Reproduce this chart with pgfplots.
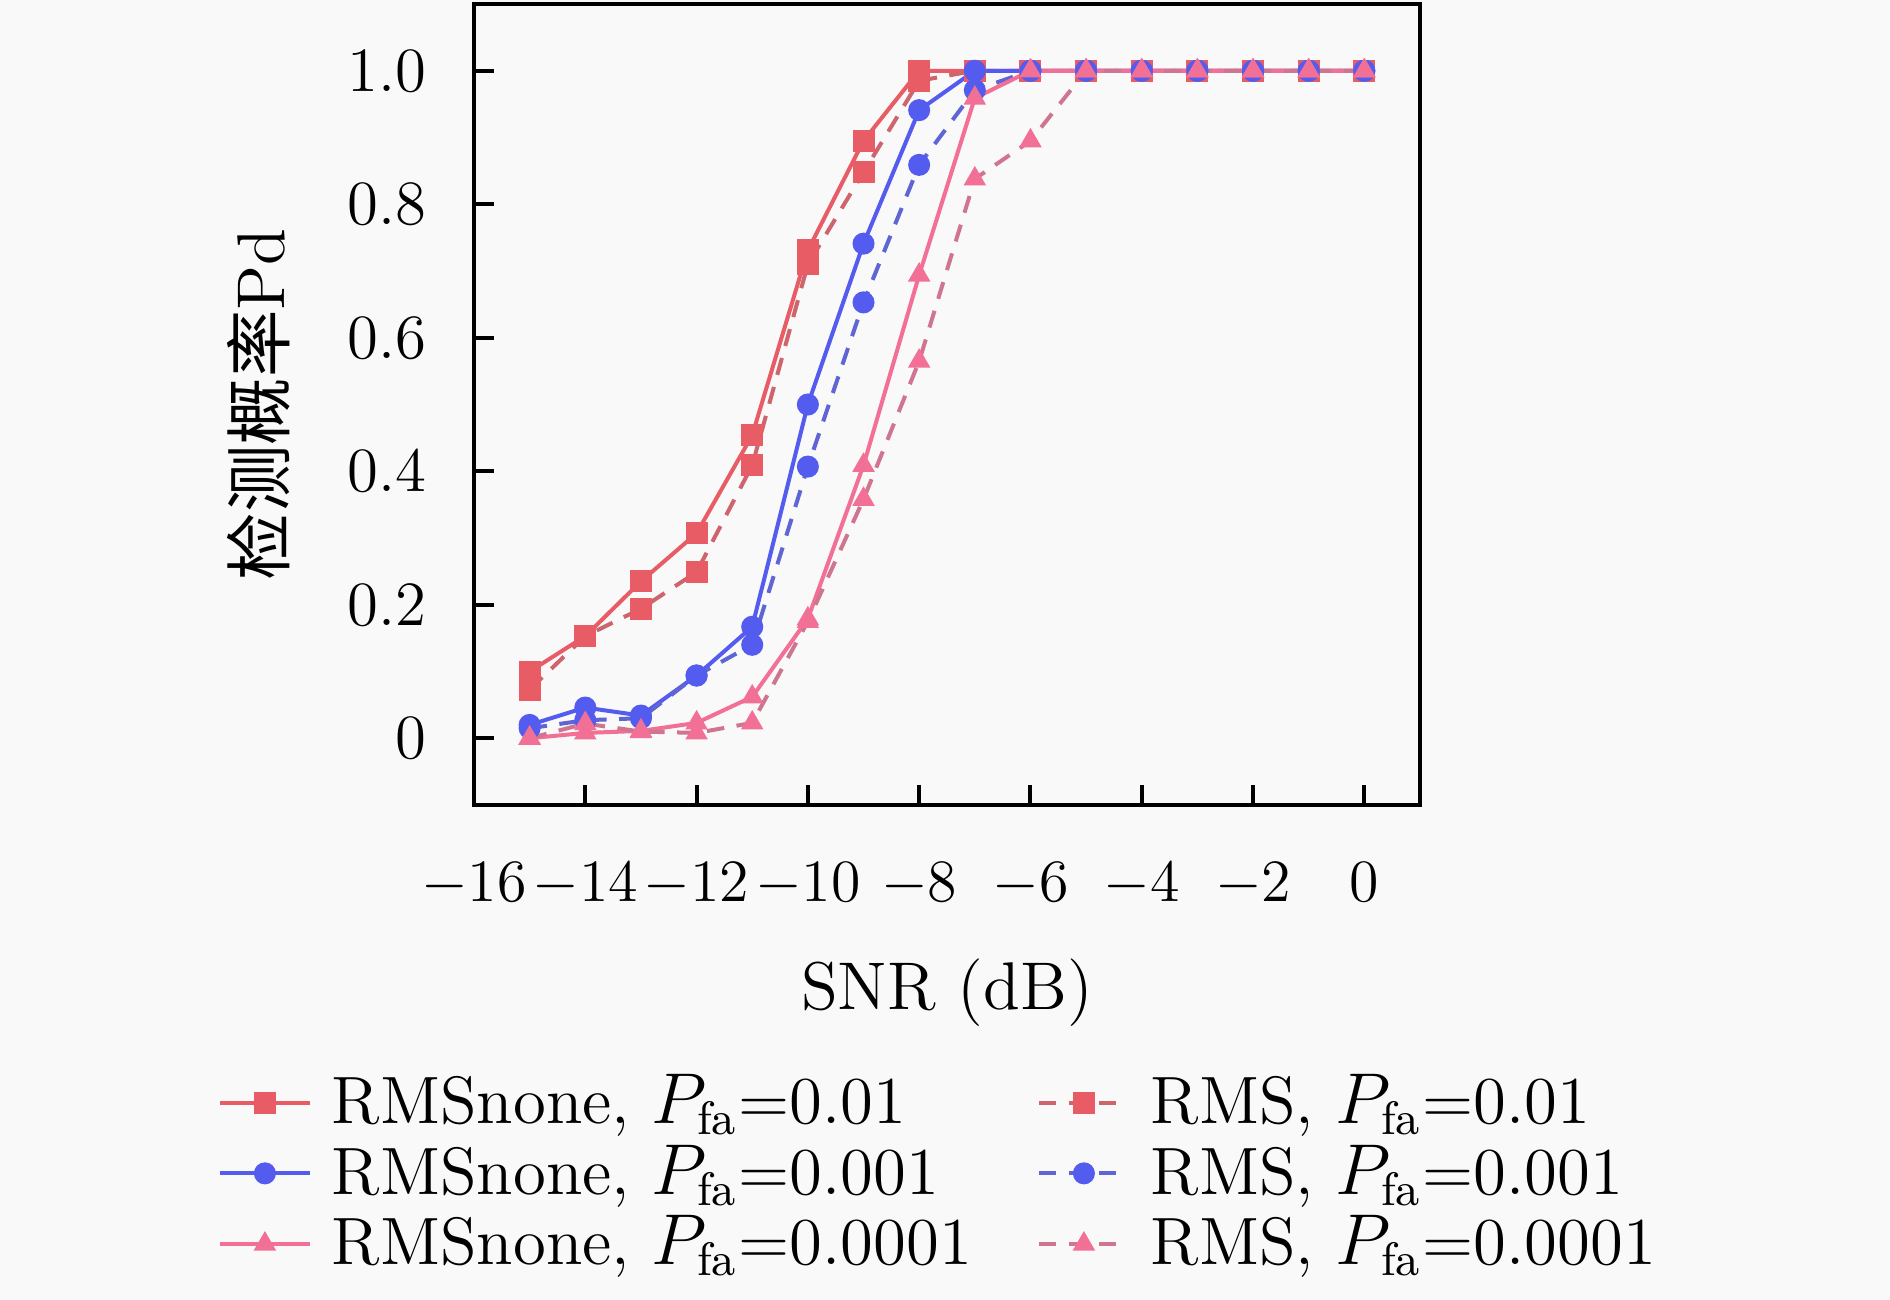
\documentclass[border=0pt]{standalone}
\usepackage{pgfplots}
\pgfplotsset{compat=1.18}
\usepackage{fontspec}
\newfontfamily\cjk{Noto Sans CJK SC}
\usetikzlibrary{backgrounds}
\definecolor{bgc}{RGB}{249,249,249}
\definecolor{cA}{RGB}{232,92,102}
\definecolor{cB}{RGB}{84,92,240}
\definecolor{cC}{RGB}{242,112,150}
\begin{document}
\begin{tikzpicture}[background rectangle/.style={fill=bgc,draw=none}, show background rectangle, inner frame sep=0pt]
\begin{axis}[
  scale only axis,
  width=189.2pt, height=160.2pt,
  xmin=-16, xmax=1, ymin=-0.1, ymax=1.1,
  xtick={-16,-14,...,0},
  ytick={0,0.2,0.4,0.6,0.8,1.0},
  yticklabels={0,0.2,0.4,0.6,0.8,1.0},
  tick pos=left, tick align=inside,
  major tick length=4pt,
  axis line style={line width=0.8pt},
  every tick/.style={black, line width=0.8pt},
  axis background/.style={fill=bgc},
  tick label style={font=\fontsize{12.6}{14}\selectfont},
  xticklabel style={yshift=-8pt},
  yticklabel style={xshift=-6pt},
  label style={font=\fontsize{13.5}{15}\selectfont},
  xlabel={SNR (dB)},
  ylabel={{\cjk 检测概率}Pd},
  xlabel style={at={(axis description cs:0.5,0)}, anchor=center, yshift=-37.6pt},
  ylabel style={at={(axis description cs:-0.2273,0.5)}, anchor=center, rotate=0},
  legend columns=2,
  legend cell align=left,
  legend style={at={(axis description cs:0.5,-0.31)}, anchor=north, draw=none, fill=none,
    font=\fontsize{13.4}{15}\selectfont, row sep=-1.2pt,
    nodes={inner xsep=4pt},
    /tikz/every even column/.append style={column sep=9pt}},
  legend image code/.code={\draw[mark repeat=2,mark phase=2] plot coordinates {(0pt,0pt) (9pt,0pt) (18pt,0pt)};},
  every axis plot/.append style={line width=0.8pt, mark size=1.8pt},
]
\addplot[cA, solid, mark=square*, mark options={solid, fill=cA}] coordinates {
(-15,0.10) (-14,0.153) (-13,0.235) (-12,0.307) (-11,0.454) (-10,0.731) (-9,0.895) (-8,1.0) (-7,1) (-6,1) (-5,1) (-4,1) (-3,1) (-2,1) (-1,1) (0,1)};
\addlegendentry{RMSnone, $P_{\mathrm{fa}}$=0.01}
\addplot[cA!75!gray, dash pattern=on 3.5pt off 2.5pt, mark=square*, mark options={solid, fill=cA, draw=cA}] coordinates {
(-15,0.073) (-14,0.153) (-13,0.194) (-12,0.249) (-11,0.409) (-10,0.71) (-9,0.848) (-8,0.985) (-7,1) (-6,1) (-5,1) (-4,1) (-3,1) (-2,1) (-1,1) (0,1)};
\addlegendentry{RMS, $P_{\mathrm{fa}}$=0.01}
\addplot[cB, solid, mark=*, mark options={solid, fill=cB}] coordinates {
(-15,0.02) (-14,0.046) (-13,0.034) (-12,0.094) (-11,0.167) (-10,0.5) (-9,0.741) (-8,0.941) (-7,1) (-6,1) (-5,1) (-4,1) (-3,1) (-2,1) (-1,1) (0,1)};
\addlegendentry{RMSnone, $P_{\mathrm{fa}}$=0.001}
\addplot[cB!75!gray, dash pattern=on 3.5pt off 2.5pt, mark=*, mark options={solid, fill=cB, draw=cB}] coordinates {
(-15,0.015) (-14,0.027) (-13,0.03) (-12,0.094) (-11,0.14) (-10,0.407) (-9,0.653) (-8,0.859) (-7,0.971) (-6,1) (-5,1) (-4,1) (-3,1) (-2,1) (-1,1) (0,1)};
\addlegendentry{RMS, $P_{\mathrm{fa}}$=0.001}
\addplot[cC, solid, mark=triangle*, mark options={solid, fill=cC}] coordinates {
(-15,0.0) (-14,0.008) (-13,0.011) (-12,0.023) (-11,0.062) (-10,0.179) (-9,0.409) (-8,0.694) (-7,0.959) (-6,1) (-5,1) (-4,1) (-3,1) (-2,1) (-1,1) (0,1)};
\addlegendentry{RMSnone, $P_{\mathrm{fa}}$=0.0001}
\addplot[cC!70!gray, dash pattern=on 3.5pt off 2.5pt, mark=triangle*, mark options={solid, fill=cC, draw=cC}] coordinates {
(-15,0.0) (-14,0.022) (-13,0.01) (-12,0.008) (-11,0.023) (-10,0.175) (-9,0.358) (-8,0.565) (-7,0.838) (-6,0.895) (-5,1) (-4,1) (-3,1) (-2,1) (-1,1) (0,1)};
\addlegendentry{RMS, $P_{\mathrm{fa}}$=0.0001}
\end{axis}
\path ([shift={(-94.8pt,-99pt)}]current axis.south west) rectangle ([shift={(94pt,0.8pt)}]current axis.north east);
\end{tikzpicture}
\end{document}
